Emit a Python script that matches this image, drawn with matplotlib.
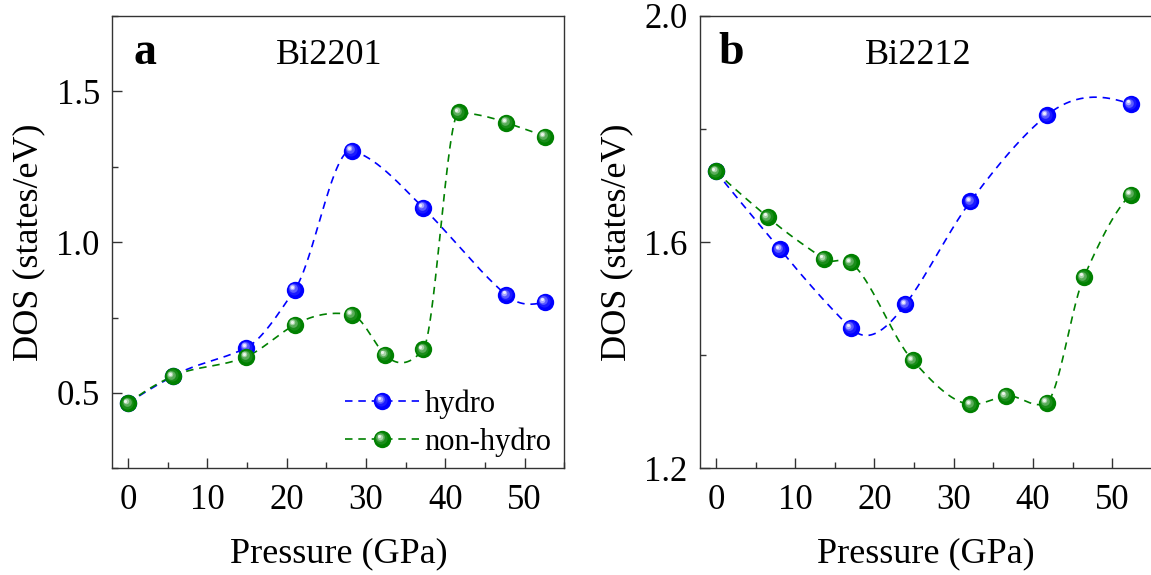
import numpy as np
import matplotlib
matplotlib.use('Agg')
import matplotlib.pyplot as plt
from matplotlib.transforms import ScaledTranslation
from matplotlib.ticker import MultipleLocator, FormatStrFormatter
from matplotlib.legend_handler import HandlerLine2D
from matplotlib.lines import Line2D

plt.rcParams['font.family'] = ['Liberation Serif', 'DejaVu Serif']

# panel a : Bi2201
p_a_hydro = [0.0, 5.6, 14.9, 21.0, 28.2, 37.2, 47.7, 52.5]
dos_a_hydro = [0.465, 0.555, 0.650, 0.842, 1.303, 1.114, 0.824, 0.801]
p_a_non = [0.0, 5.6, 14.9, 21.0, 28.2, 32.4, 37.2, 41.7, 47.7, 52.5]
dos_a_non = [0.465, 0.555, 0.620, 0.726, 0.759, 0.626, 0.644, 1.430, 1.396, 1.350]

# panel b : Bi2212
p_b_hydro = [0.0, 8.1, 17.0, 23.9, 32.1, 41.7, 52.3]
dos_b_hydro = [1.725, 1.587, 1.448, 1.490, 1.672, 1.824, 1.844]
p_b_non = [0.0, 6.55, 13.65, 17.0, 24.8, 32.1, 36.55, 41.7, 46.4, 52.3]
dos_b_non = [1.725, 1.644, 1.570, 1.564, 1.391, 1.313, 1.328, 1.316, 1.538, 1.684]

BLUE = '#0000ff'
GREEN = '#008000'
MS = 12.5
# (relative size, whitening, offset in pt) for the fake sphere shading
LAYERS = [(1.00, 0.0, 0.0), (0.70, 0.10, -0.6), (0.50, 0.35, -1.2),
          (0.32, 0.65, -1.7), (0.18, 0.92, -2.0)]


def akima(x, y, npts=600):
    # Akima spline through the points (looks like Origin's spline connect)
    x = np.asarray(x, float)
    y = np.asarray(y, float)
    m = np.diff(y) / np.diff(x)
    mm = np.concatenate([[3*m[0]-2*m[1], 2*m[0]-m[1]], m,
                         [2*m[-1]-m[-2], 3*m[-1]-2*m[-2]]])
    dm = np.abs(np.diff(mm))
    w1 = dm[2:]
    w2 = dm[:-2]
    n = len(x)
    t = np.empty(n)
    for i in range(n):
        if w1[i] + w2[i] == 0:
            t[i] = 0.5*(mm[i+1] + mm[i+2])
        else:
            t[i] = (w1[i]*mm[i+1] + w2[i]*mm[i+2]) / (w1[i] + w2[i])
    xs = np.linspace(x[0], x[-1], npts)
    k = np.clip(np.searchsorted(x, xs) - 1, 0, n-2)
    h = x[k+1] - x[k]
    s = (xs - x[k]) / h
    h00 = 2*s**3 - 3*s**2 + 1
    h10 = s**3 - 2*s**2 + s
    h01 = -2*s**3 + 3*s**2
    h11 = s**3 - s**2
    ys = h00*y[k] + h10*h*t[k] + h01*y[k+1] + h11*h*t[k+1]
    return xs, ys


def mix(c, f):
    c = np.array(matplotlib.colors.to_rgb(c))
    return tuple(c + (1 - c)*f)


def balls(ax, x, y, color, zorder=5):
    fig = ax.figure
    for j, (sz, f, off) in enumerate(LAYERS):
        tr = ax.transData + ScaledTranslation(off/72, -off/72, fig.dpi_scale_trans)
        ax.plot(x, y, 'o', ms=MS*sz, color=mix(color, f), mec='none',
                transform=tr, zorder=zorder + j*0.01)


class BallHandler(HandlerLine2D):
    def create_artists(self, legend, orig_handle, xdescent, ydescent,
                       width, height, fontsize, trans):
        arts = super().create_artists(legend, orig_handle, xdescent, ydescent,
                                      width, height, fontsize, trans)
        xm = -xdescent + 0.5*width
        ym = (height - ydescent) / 2
        color = orig_handle.get_color()
        for sz, f, off in LAYERS[1:]:
            a = Line2D([xm + off], [ym - off], ls='', marker='o', ms=MS*sz,
                       color=mix(color, f), mec='none')
            a.set_transform(trans)
            arts.append(a)
        return arts


def series(ax, x, y, color, label=None, z=3):
    xs, ys = akima(x, y)
    ax.plot(xs, ys, color=color, lw=1.2, dashes=(4.5, 3.5), zorder=z)
    balls(ax, x, y, color, zorder=z+2)
    h = Line2D([], [], color=color, lw=1.2, dashes=(4.5, 3.5), marker='o',
               ms=MS, mfc=color, mec='none', label=label)
    return h


def style(ax, ylim, major, minor, fmt):
    ax.set_xlim(-2, 55)
    ax.set_ylim(*ylim)
    ax.xaxis.set_major_locator(MultipleLocator(10))
    ax.xaxis.set_minor_locator(MultipleLocator(5))
    ax.yaxis.set_major_locator(MultipleLocator(major))
    ax.yaxis.set_minor_locator(MultipleLocator(minor))
    ax.yaxis.set_major_formatter(FormatStrFormatter(fmt))
    ax.tick_params(which='both', direction='in', top=False, right=False,
                   labelsize=25, color='#333333')
    ax.tick_params(which='major', length=7.5, width=1.0, pad=9)
    ax.tick_params(axis='x', which='major', pad=11)
    ax.tick_params(which='minor', length=4, width=1.0)
    for sp in ax.spines.values():
        sp.set_color('#333333')
        sp.set_linewidth(1.0)
    ax.set_xlabel('Pressure (GPa)', fontsize=26, labelpad=15)
    ax.set_ylabel('DOS (states/eV)', fontsize=26, labelpad=8)


fig = plt.figure(figsize=(11.51, 5.75), dpi=100)
ax1 = fig.add_axes([0.0976, 0.1856, 0.3927, 0.7866])
ax2 = fig.add_axes([0.6082, 0.1856, 0.3927, 0.7866])

h1 = series(ax1, p_a_hydro, dos_a_hydro, BLUE, 'hydro', z=3)
h2 = series(ax1, p_a_non, dos_a_non, GREEN, 'non-hydro', z=4)
style(ax1, (0.25, 1.75), 0.5, 0.25, '%.1f')
ax1.text(0.046, 0.894, 'a', transform=ax1.transAxes, fontsize=33,
         fontweight='bold', ha='left', va='baseline')
ax1.text(0.48, 0.894, 'Bi2201', transform=ax1.transAxes, fontsize=26,
         ha='center', va='baseline')
ax1.legend(handles=[h1, h2], loc='lower left', bbox_to_anchor=(0.468, -0.022),
           frameon=False, fontsize=22, handlelength=2.4, handletextpad=0.2,
           labelspacing=0.28, borderpad=0.2,
           handler_map={Line2D: BallHandler()})

series(ax2, p_b_hydro, dos_b_hydro, BLUE, z=3)
series(ax2, p_b_non, dos_b_non, GREEN, z=4)
style(ax2, (1.2, 2.0), 0.4, 0.2, '%.1f')
ax2.text(0.04, 0.894, 'b', transform=ax2.transAxes, fontsize=33,
         fontweight='bold', ha='left', va='baseline')
ax2.text(0.483, 0.894, 'Bi2212', transform=ax2.transAxes, fontsize=26,
         ha='center', va='baseline')

fig.savefig('out.png', dpi=100)
